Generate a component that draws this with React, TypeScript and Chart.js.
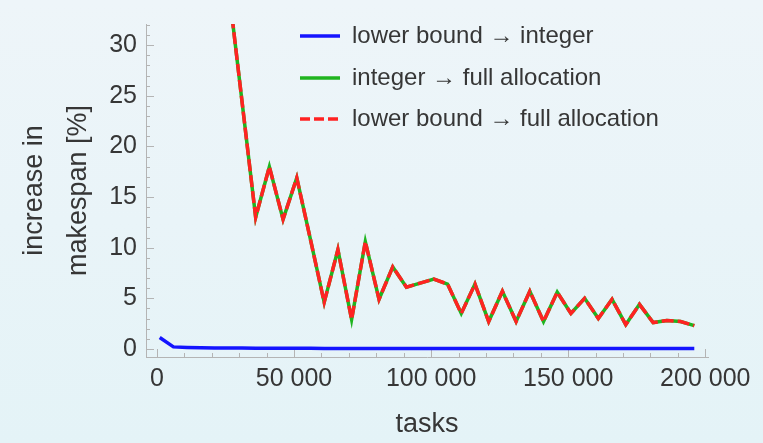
import { useEffect, useRef } from "react";
import { Chart, registerables } from "chart.js";

Chart.register(...registerables);

// problem sizes (number of tasks)
const tasks = [
  1000, 6000, 11000, 16000, 21000, 26000, 31000, 36000, 41000, 46000,
  51000, 56000, 61000, 66000, 71000, 76000, 81000, 86000, 91000, 96000,
  101000, 106000, 111000, 116000, 121000, 126000, 131000, 136000, 141000, 146000,
  151000, 156000, 161000, 166000, 171000, 176000, 181000, 186000, 191000, 196000,
];

// increase in makespan [%]
const lowerToInteger = [
  1.12, 0.2, 0.15, 0.12, 0.1, 0.09, 0.08, 0.07, 0.07, 0.06,
  0.06, 0.06, 0.05, 0.05, 0.05, 0.05, 0.05, 0.04, 0.04, 0.04,
  0.04, 0.04, 0.04, 0.04, 0.04, 0.04, 0.03, 0.03, 0.03, 0.03,
  0.03, 0.03, 0.03, 0.03, 0.03, 0.03, 0.03, 0.03, 0.03, 0.03,
];

const integerToFull = [
  null, null, null, null, null, 36.0, 24.5, 13.0, 18.0, 12.8,
  16.9, 10.8, 4.6, 9.8, 2.9, 10.6, 4.9, 8.1, 6.1, 6.5,
  6.9, 6.4, 3.5, 6.4, 2.7, 5.7, 2.7, 5.7, 2.7, 5.6,
  3.5, 5.0, 3.0, 4.9, 2.4, 4.4, 2.6, 2.8, 2.7, 2.3,
];

const lowerToFull = [
  null, null, null, null, null, 36.0, 24.5, 13.0, 18.0, 12.8,
  16.9, 10.8, 4.6, 9.8, 2.9, 10.6, 4.9, 8.1, 6.1, 6.5,
  6.9, 6.4, 3.5, 6.4, 2.7, 5.7, 2.7, 5.7, 2.7, 5.6,
  3.5, 5.0, 3.0, 4.9, 2.4, 4.4, 2.6, 2.8, 2.7, 2.3,
];

const seriesNames = [
  "lower bound \u2192 integer",
  "integer \u2192 full allocation",
  "lower bound \u2192 full allocation",
];

const xTickValues = [0, 50000, 100000, 150000, 200000];
const xTickLabels = ["0", "50 000", "100 000", "150 000", "200 000"];
const xMinorTicks = [
  10000, 20000, 30000, 40000, 60000, 70000, 80000, 90000,
  110000, 120000, 130000, 140000, 160000, 170000, 180000, 190000,
];
const yTickValues = [0, 5, 10, 15, 20, 25, 30];
const yMinorTicks = [
  1, 2, 3, 4, 6, 7, 8, 9, 11, 12, 13, 14, 16, 17, 18, 19,
  21, 22, 23, 24, 26, 27, 28, 29, 31, 32,
];

const BLUE = "#1414ff";
const GREEN = "#1fb41f";
const RED = "#ff2222";
const TEXT = "#363636";
const FRAME = "#b4b4b4";
const FONT = "'Liberation Sans', Arial, Helvetica, sans-serif";

// inward-pointing tick marks on both axes
const frameTicks = {
  id: "frameTicks",
  beforeDatasetsDraw(chart: any) {
    const { ctx, chartArea, scales } = chart;
    const xs = scales.x;
    const ys = scales.y;
    ctx.save();
    ctx.strokeStyle = FRAME;
    ctx.lineWidth = 1;
    ctx.beginPath();
    const xMark = (v: number, len: number) => {
      const px = Math.round(xs.getPixelForValue(v)) + 0.5;
      ctx.moveTo(px, chartArea.bottom);
      ctx.lineTo(px, chartArea.bottom - len);
    };
    const yMark = (v: number, len: number) => {
      const py = Math.round(ys.getPixelForValue(v)) + 0.5;
      ctx.moveTo(chartArea.left, py);
      ctx.lineTo(chartArea.left + len, py);
    };
    xTickValues.forEach((v) => xMark(v, 8));
    xMinorTicks.forEach((v) => xMark(v, 4));
    yTickValues.forEach((v) => yMark(v, 8));
    yMinorTicks.forEach((v) => yMark(v, 4));
    ctx.stroke();
    ctx.restore();
  },
};

// legend in the upper right of the plot
const insideLegend = {
  id: "insideLegend",
  afterDraw(chart: any) {
    const { ctx } = chart;
    const x0 = 300;
    const x1 = 340;
    const textX = 352;
    const rows = [36, 78, 119];
    const styles = [
      { color: BLUE, dash: [] as number[] },
      { color: GREEN, dash: [] as number[] },
      { color: RED, dash: [10, 4] },
    ];
    ctx.save();
    rows.forEach((y, i) => {
      ctx.beginPath();
      ctx.setLineDash(styles[i].dash);
      ctx.strokeStyle = styles[i].color;
      ctx.lineWidth = 3.5;
      ctx.moveTo(x0, y);
      ctx.lineTo(x1, y);
      ctx.stroke();
      ctx.setLineDash([]);
      ctx.fillStyle = TEXT;
      ctx.font = `24px ${FONT}`;
      ctx.textBaseline = "middle";
      ctx.textAlign = "left";
      ctx.fillText(seriesNames[i], textX, y);
    });
    ctx.restore();
  },
};

export default function App() {
  const canvasRef = useRef<HTMLCanvasElement | null>(null);

  useEffect(() => {
    const canvas = canvasRef.current;
    if (!canvas) return;
    const chart = new Chart(canvas, {
      type: "line",
      data: {
        labels: tasks,
        datasets: [
          {
            label: seriesNames[0],
            data: tasks.map((t, i) => ({ x: t, y: lowerToInteger[i] })),
            borderColor: BLUE,
            borderWidth: 3.5,
            pointRadius: 0,
            tension: 0,
            order: 1,
          },
          {
            label: seriesNames[1],
            data: tasks.map((t, i) => ({ x: t, y: integerToFull[i] })),
            borderColor: GREEN,
            borderWidth: 3.5,
            pointRadius: 0,
            tension: 0,
            spanGaps: false,
            order: 3,
          },
          {
            label: seriesNames[2],
            data: tasks.map((t, i) => ({ x: t, y: lowerToFull[i] })),
            borderColor: RED,
            borderWidth: 3.5,
            borderDash: [12, 4],
            pointRadius: 0,
            tension: 0,
            spanGaps: false,
            order: 2,
          },
        ] as any,
      },
      options: {
        animation: false,
        responsive: false,
        events: [],
        layout: { padding: { top: 12, right: 55, bottom: 0, left: 0 } },
        plugins: {
          legend: { display: false },
          tooltip: { enabled: false },
        },
        scales: {
          x: {
            type: "linear",
            min: -4000,
            max: 201000,
            grid: { display: false, drawTicks: false },
            border: { display: true, color: FRAME, width: 1 },
            afterBuildTicks: (scale: any) => {
              scale.ticks = xTickValues.map((v) => ({ value: v }));
            },
            afterFit: (scale: any) => {
              scale.height = 86;
            },
            ticks: {
              padding: 7,
              maxRotation: 0,
              autoSkip: false,
              color: TEXT,
              font: { family: FONT, size: 25 },
              callback: (v: any) => {
                const i = xTickValues.indexOf(Number(v));
                return i >= 0 ? xTickLabels[i] : "";
              },
            },
            title: {
              display: true,
              text: "tasks",
              color: TEXT,
              font: { family: FONT, size: 27 },
              padding: { top: 0, bottom: 2 },
            },
          },
          y: {
            type: "linear",
            min: -0.8,
            max: 32.1,
            grid: { display: false, drawTicks: false },
            border: { display: true, color: FRAME, width: 1 },
            afterBuildTicks: (scale: any) => {
              scale.ticks = yTickValues.map((v) => ({ value: v }));
            },
            afterFit: (scale: any) => {
              scale.width = 146;
            },
            ticks: {
              padding: 9,
              autoSkip: false,
              color: TEXT,
              font: { family: FONT, size: 25 },
              callback: (v: any) => String(v),
            },
            title: {
              display: true,
              text: ["increase in", "makespan [%]"],
              color: TEXT,
              font: { family: FONT, size: 27, lineHeight: 1.63 },
              padding: { top: 13, bottom: 0 },
            },
          },
        },
      },
      plugins: [frameTicks, insideLegend],
    });
    return () => chart.destroy();
  }, []);

  return (
    <div
      style={{
        position: "fixed",
        left: 0,
        top: 0,
        width: 763,
        height: 443,
        background: "linear-gradient(180deg, #eef5f9 0%, #e4f3f7 100%)",
      }}
    >
      <canvas ref={canvasRef} width={763} height={443} style={{ display: "block" }} />
    </div>
  );
}
